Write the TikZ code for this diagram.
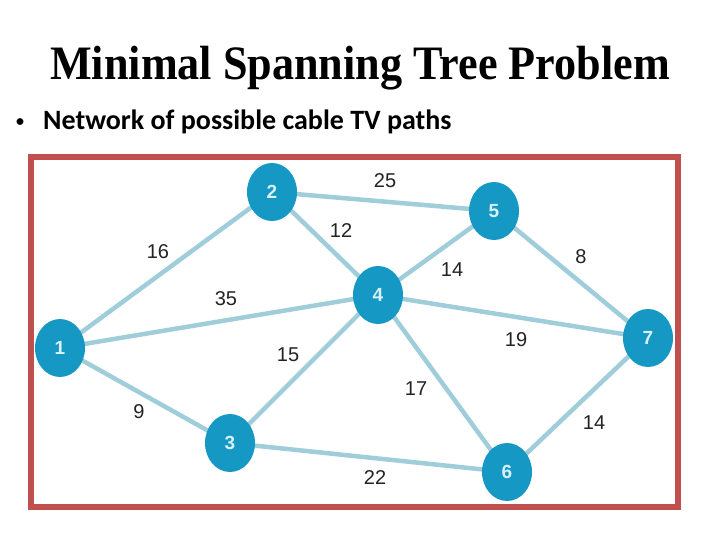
\documentclass[tikz,border=0pt]{standalone}
\usepackage{fontspec}
\setmainfont{Liberation Serif}
\newfontfamily\calib{Carlito}
\newfontfamily\arialf{Liberation Sans}
\usetikzlibrary{shapes.geometric}
\definecolor{framered}{RGB}{192,80,77}
\definecolor{edgeblue}{RGB}{160,205,218}
\definecolor{nodeblue}{RGB}{22,152,196}
\definecolor{nodetext}{RGB}{215,242,248}
\definecolor{labelgray}{RGB}{35,35,35}
\begin{document}
\begin{tikzpicture}[x=1pt,y=-1pt,
  vert/.style={ellipse,fill=nodeblue,minimum width=50pt,minimum height=58pt,inner sep=0pt,
    text=nodetext,font=\arialf\bfseries\fontsize{19}{19}\selectfont},
  edge/.style={draw=edgeblue,line width=4.5pt},
  wlabel/.style={text=labelgray,font=\arialf\fontsize{20}{20}\selectfont,inner sep=0pt}]
\useasboundingbox (0,0) rectangle (720,540);
\fill[white] (0,0) rectangle (720,540);
\node[font=\bfseries\fontsize{48}{48}\selectfont] (title) at (360,68) {\scalebox{0.92}[1]{Minimal Spanning Tree Problem}};
\node[anchor=west,font=\calib\bfseries\fontsize{16}{16}\selectfont,inner sep=0pt] (bul) at (16,123) {\textbullet};
\node[anchor=west,font=\calib\bfseries\fontsize{28}{28}\selectfont,inner sep=0pt] (sub) at (43,122) {Network of possible cable TV paths};
\draw[framered,line width=5.5pt] (31,157) rectangle (678,507);
\coordinate (p1) at (60,348);
\coordinate (p2) at (272,192);
\coordinate (p3) at (230,443);
\coordinate (p4) at (378,295);
\coordinate (p5) at (494,211);
\coordinate (p6) at (507,472);
\coordinate (p7) at (648,338);
\draw[edge] (p1) -- (p2);
\draw[edge] (p1) -- (p4);
\draw[edge] (p1) -- (p3);
\draw[edge] (p2) -- (p5);
\draw[edge] (p2) -- (p4);
\draw[edge] (p3) -- (p4);
\draw[edge] (p3) -- (p6);
\draw[edge] (p4) -- (p5);
\draw[edge] (p4) -- (p7);
\draw[edge] (p4) -- (p6);
\draw[edge] (p5) -- (p7);
\draw[edge] (p6) -- (p7);
\node[vert] (n1) at (p1) {1};
\node[vert] (n2) at (p2) {2};
\node[vert] (n3) at (p3) {3};
\node[vert] (n4) at (p4) {4};
\node[vert] (n5) at (p5) {5};
\node[vert] (n6) at (p6) {6};
\node[vert] (n7) at (p7) {7};
\node[wlabel] (l25) at (385,181) {25};
\node[wlabel] (l16) at (158,252) {16};
\node[wlabel] (l12) at (341,231) {12};
\node[wlabel] (l35) at (226,299) {35};
\node[wlabel] (l14a) at (452,270) {14};
\node[wlabel] (l8) at (581,257) {8};
\node[wlabel] (l19) at (516,340) {19};
\node[wlabel] (l15) at (288,355) {15};
\node[wlabel] (l17) at (416,389) {17};
\node[wlabel] (l9) at (139,412) {9};
\node[wlabel] (l14b) at (594,423) {14};
\node[wlabel] (l22) at (375,478) {22};
\end{tikzpicture}
\end{document}
